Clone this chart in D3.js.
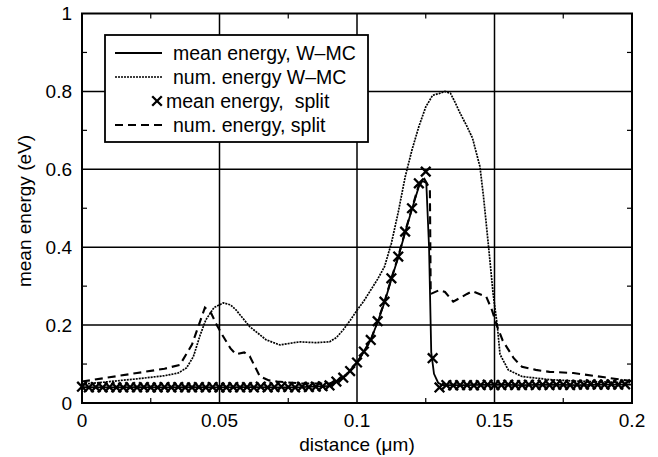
<!DOCTYPE html>
<html>
<head>
<meta charset="utf-8">
<script src="https://cdn.jsdelivr.net/npm/d3@7"></script>
<style>
  body { margin: 0; background: #fff; }
  text { font-family: "Liberation Sans", Arial, Helvetica, sans-serif; fill: #000; }
</style>
</head>
<body>
<div id="chart"></div>
<script>
// mean energy, W-MC (solid)
const wmcMeanX = [0, 0.01, 0.02, 0.03, 0.04, 0.05, 0.06, 0.07, 0.08, 0.09, 0.0925, 0.095, 0.0975, 0.1,
  0.1025, 0.105, 0.1075, 0.11, 0.1125, 0.115, 0.1175, 0.12, 0.1225, 0.1238, 0.1252, 0.1262, 0.127,
  0.128, 0.1295, 0.131, 0.14, 0.15, 0.16, 0.17, 0.18, 0.19, 0.2];
const wmcMeanY = [0.041, 0.040, 0.041, 0.040, 0.041, 0.040, 0.041, 0.040, 0.041, 0.044, 0.054, 0.066,
  0.083, 0.104, 0.131, 0.162, 0.208, 0.258, 0.318, 0.374, 0.438, 0.498, 0.556, 0.570, 0.565, 0.40,
  0.13, 0.075, 0.052, 0.046, 0.046, 0.047, 0.046, 0.047, 0.046, 0.047, 0.047];

// num. energy W-MC (dotted)
const wmcNumX = [0, 0.01, 0.02, 0.03, 0.035, 0.038, 0.0405, 0.043, 0.045, 0.048, 0.0514, 0.054, 0.056,
  0.061, 0.067, 0.072, 0.079, 0.085, 0.09, 0.0925, 0.095, 0.0975, 0.1, 0.1025, 0.105, 0.1075, 0.11,
  0.1125, 0.115, 0.1175, 0.12, 0.1225, 0.125, 0.1275, 0.13, 0.132, 0.134, 0.1358, 0.1375, 0.14, 0.142,
  0.1447, 0.146, 0.147, 0.148, 0.1495, 0.151, 0.152, 0.155, 0.16, 0.17, 0.18, 0.19, 0.2];
const wmcNumY = [0.048, 0.055, 0.062, 0.070, 0.077, 0.090, 0.119, 0.175, 0.213, 0.245, 0.257, 0.252,
  0.239, 0.196, 0.162, 0.149, 0.157, 0.155, 0.157, 0.168, 0.188, 0.212, 0.238, 0.262, 0.29, 0.318,
  0.35, 0.41, 0.49, 0.58, 0.65, 0.71, 0.76, 0.79, 0.795, 0.80, 0.795, 0.77, 0.744, 0.71, 0.68,
  0.607, 0.53, 0.46, 0.39, 0.28, 0.20, 0.125, 0.085, 0.068, 0.060, 0.056, 0.054, 0.052];

// mean energy, split (crosses), sampled every 0.0025
const splitStep = 0.0025;
const splitMeanY = [0.042, 0.040, 0.041, 0.040, 0.041, 0.040, 0.040, 0.041, 0.040, 0.041, 0.040,
  0.040, 0.041, 0.040, 0.041, 0.040, 0.040, 0.041, 0.040, 0.041, 0.040, 0.040, 0.041, 0.040, 0.041,
  0.040, 0.042, 0.040, 0.041, 0.042, 0.041, 0.040, 0.042, 0.041, 0.042, 0.043, 0.045,
  0.055, 0.065, 0.082, 0.104, 0.132, 0.162, 0.210, 0.260, 0.320, 0.376, 0.440, 0.500, 0.564, 0.594,
  0.115, 0.040,
  0.046, 0.045, 0.046, 0.046, 0.045, 0.046, 0.047, 0.046, 0.046, 0.047, 0.046, 0.046, 0.047, 0.046,
  0.047, 0.046, 0.047, 0.047, 0.046, 0.047, 0.047, 0.048, 0.047, 0.047, 0.048, 0.047, 0.048];

// num. energy, split (dashed)
const splitNumX = [0, 0.01, 0.02, 0.03, 0.0356, 0.04, 0.0447, 0.047, 0.049, 0.051, 0.054, 0.056, 0.059,
  0.061, 0.0647, 0.068, 0.071, 0.08, 0.09, 0.0925, 0.095, 0.0975, 0.1, 0.1025, 0.105, 0.1075, 0.11,
  0.1125, 0.115, 0.1175, 0.12, 0.1225, 0.1245, 0.1265, 0.1268, 0.13, 0.132, 0.135, 0.1375, 0.14, 0.142,
  0.1445, 0.147, 0.149, 0.151, 0.153, 0.157, 0.16, 0.165, 0.17, 0.1787, 0.19, 0.197, 0.2];
const splitNumY = [0.055, 0.066, 0.077, 0.088, 0.098, 0.15, 0.245, 0.23, 0.20, 0.175, 0.14, 0.125, 0.13,
  0.12, 0.068, 0.058, 0.055, 0.050, 0.050, 0.057, 0.066, 0.083, 0.104, 0.132, 0.162, 0.210, 0.260,
  0.320, 0.376, 0.440, 0.500, 0.560, 0.575, 0.55, 0.28, 0.29, 0.285, 0.26, 0.27, 0.28, 0.287,
  0.28, 0.273, 0.24, 0.196, 0.16, 0.115, 0.093, 0.085, 0.080, 0.077, 0.066, 0.059, 0.056];

const xTicks = [0, 0.05, 0.1, 0.15, 0.2];
const xTickLabels = ["0", "0.05", "0.1", "0.15", "0.2"];
const yTicks = [0, 0.2, 0.4, 0.6, 0.8, 1];
const yTickLabels = ["0", "0.2", "0.4", "0.6", "0.8", "1"];
const xMinor = [0.025, 0.075, 0.125, 0.175];
const yMinor = [0.1, 0.3, 0.5, 0.7, 0.9];
const legendLabels = ["mean energy, W\u2013MC", "num. energy W\u2013MC", "mean energy,  split", "num. energy, split"];

const width = 658, height = 457;
const plotLeft = 82, plotRight = 632, plotTop = 13.5, plotBottom = 403;

const x = d3.scaleLinear().domain([0, 0.2]).range([plotLeft, plotRight]);
const y = d3.scaleLinear().domain([0, 1]).range([plotBottom, plotTop]);

const svg = d3.select("#chart").append("svg")
  .attr("width", width).attr("height", height);

// grid
svg.append("g").selectAll("line")
  .data(xTicks.slice(1, -1))
  .join("line")
    .attr("x1", d => x(d)).attr("x2", d => x(d))
    .attr("y1", plotTop).attr("y2", plotBottom)
    .attr("stroke", "#000").attr("stroke-width", 1.5);
svg.append("g").selectAll("line")
  .data(yTicks.slice(1, -1))
  .join("line")
    .attr("x1", plotLeft).attr("x2", plotRight)
    .attr("y1", d => y(d)).attr("y2", d => y(d))
    .attr("stroke", "#000").attr("stroke-width", 1.5);

// minor ticks
const minor = svg.append("g").attr("stroke", "#000").attr("stroke-width", 1.2);
xMinor.forEach(function(v) {
  minor.append("line").attr("x1", x(v)).attr("x2", x(v)).attr("y1", plotBottom).attr("y2", plotBottom - 5);
  minor.append("line").attr("x1", x(v)).attr("x2", x(v)).attr("y1", plotTop).attr("y2", plotTop + 5);
});
yMinor.forEach(function(v) {
  minor.append("line").attr("x1", plotLeft).attr("x2", plotLeft + 5).attr("y1", y(v)).attr("y2", y(v));
  minor.append("line").attr("x1", plotRight).attr("x2", plotRight - 5).attr("y1", y(v)).attr("y2", y(v));
});

// frame
svg.append("rect")
  .attr("x", plotLeft).attr("y", plotTop)
  .attr("width", plotRight - plotLeft).attr("height", plotBottom - plotTop)
  .attr("fill", "none").attr("stroke", "#000").attr("stroke-width", 2);

// tick labels
svg.append("g").selectAll("text")
  .data(xTicks)
  .join("text")
    .attr("x", d => x(d)).attr("y", 427)
    .attr("text-anchor", "middle").attr("font-size", 19)
    .text((d, i) => xTickLabels[i]);
svg.append("g").selectAll("text")
  .data(yTicks)
  .join("text")
    .attr("x", 72).attr("y", d => y(d))
    .attr("dy", "0.36em")
    .attr("text-anchor", "end").attr("font-size", 19)
    .text((d, i) => yTickLabels[i]);

// axis titles
svg.append("text")
  .attr("x", (plotLeft + plotRight) / 2).attr("y", 451)
  .attr("text-anchor", "middle").attr("font-size", 19)
  .text("distance (\u03bcm)");
svg.append("text")
  .attr("transform", "translate(31,211) rotate(-90)")
  .attr("text-anchor", "middle").attr("font-size", 19)
  .text("mean energy (eV)");

const line = d3.line().x(d => x(d[0])).y(d => y(d[1]));
const plot = svg.append("g");

plot.append("path")
  .datum(wmcNumX.map((v, i) => [v, wmcNumY[i]]))
  .attr("fill", "none").attr("stroke", "#000").attr("stroke-width", 1.7)
  .attr("stroke-dasharray", "2,1")
  .attr("d", line);

plot.append("path")
  .datum(splitNumX.map((v, i) => [v, splitNumY[i]]))
  .attr("fill", "none").attr("stroke", "#000").attr("stroke-width", 2.1)
  .attr("stroke-dasharray", "8,5")
  .attr("d", line);

plot.append("path")
  .datum(wmcMeanX.map((v, i) => [v, wmcMeanY[i]]))
  .attr("fill", "none").attr("stroke", "#000").attr("stroke-width", 1.8)
  .attr("d", line);

const splitPts = splitMeanY.map((v, i) => [i * splitStep, v]);
const cross = "M-4.8,-4.8L4.8,4.8M-4.8,4.8L4.8,-4.8";
plot.append("g").selectAll("path")
  .data(splitPts)
  .join("path")
    .attr("transform", d => `translate(${x(d[0])},${y(d[1])})`)
    .attr("d", cross)
    .attr("stroke", "#000").attr("stroke-width", 2.3).attr("fill", "none");

// legend
const legend = svg.append("g");
legend.append("rect")
  .attr("x", 105).attr("y", 35).attr("width", 263).attr("height", 107)
  .attr("fill", "#fff").attr("stroke", "#000").attr("stroke-width", 1.8);
const rowY = [53, 77, 101, 125];
legend.append("line").attr("x1", 115).attr("x2", 162).attr("y1", rowY[0]).attr("y2", rowY[0])
  .attr("stroke", "#000").attr("stroke-width", 1.8);
legend.append("line").attr("x1", 115).attr("x2", 162).attr("y1", rowY[1]).attr("y2", rowY[1])
  .attr("stroke", "#000").attr("stroke-width", 1.7).attr("stroke-dasharray", "2,1");
legend.append("path").attr("d", cross)
  .attr("transform", `translate(157,${rowY[2]})`)
  .attr("stroke", "#000").attr("stroke-width", 2.3).attr("fill", "none");
legend.append("line").attr("x1", 115).attr("x2", 162).attr("y1", rowY[3]).attr("y2", rowY[3])
  .attr("stroke", "#000").attr("stroke-width", 2.1).attr("stroke-dasharray", "8,5");
const textX = [173, 173, 166, 173];
legend.selectAll("text.lbl")
  .data(legendLabels)
  .join("text")
    .attr("class", "lbl")
    .attr("x", (d, i) => textX[i]).attr("y", (d, i) => rowY[i])
    .attr("dy", "0.36em").attr("font-size", 19.5)
    .style("white-space", "pre")
    .text(d => d);
</script>
</body>
</html>
